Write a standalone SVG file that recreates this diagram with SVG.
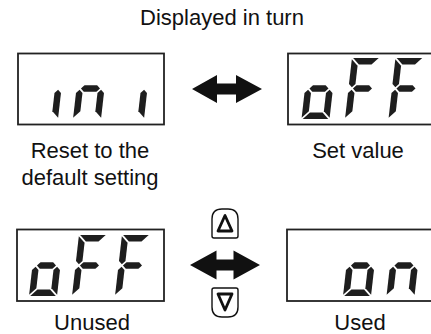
<svg xmlns="http://www.w3.org/2000/svg" xmlns:xlink="http://www.w3.org/1999/xlink" width="431" height="334" viewBox="0 0 431 334">
<style>
.box{fill:#fff;stroke:#222;stroke-width:1.8}
.seg{fill:#1e1e1e}
.lbl{font-family:"Liberation Sans",Arial,sans-serif;font-size:22px;fill:#111;text-anchor:middle}
.arrow{fill:#111}
.key{fill:#fff;stroke:#111;stroke-width:1.4}
.tri{fill:none;stroke:#111;stroke-width:2.8;stroke-linejoin:round}
</style>
<defs>
<polygon id="sa" class="seg" points="1.2,0 26.8,0 20.3,6.5 7.7,6.5"/>
<polygon id="sf" class="seg" points="0,1.2 6.5,7.7 6.5,26.05 3.25,29.3 0,26.05"/>
<polygon id="sb" class="seg" points="28,1.2 28,26.05 24.75,29.3 21.5,26.05 21.5,7.7"/>
<polygon id="sg" class="seg" points="4.45,30.5 7.7,27.25 20.3,27.25 23.55,30.5 20.3,33.75 7.7,33.75"/>
<polygon id="se" class="seg" points="3.25,31.7 6.5,34.95 6.5,53.3 0,59.8 0,34.95"/>
<polygon id="sc" class="seg" points="24.75,31.7 28,34.95 28,59.8 21.5,53.3 21.5,34.95"/>
<polygon id="sd" class="seg" points="7.7,54.5 20.3,54.5 26.8,61 1.2,61"/>
<g id="dig-o"><use xlink:href="#sg"/><use xlink:href="#se"/><use xlink:href="#sc"/><use xlink:href="#sd"/></g>
<g id="dig-F"><use xlink:href="#sa"/><use xlink:href="#sf"/><use xlink:href="#sg"/><use xlink:href="#se"/></g>
<g id="dig-n"><use xlink:href="#sg"/><use xlink:href="#se"/><use xlink:href="#sc"/></g>
<g id="dig-i"><use xlink:href="#sc"/></g>
</defs>
<rect width="431" height="334" fill="#fff"/>

<text class="lbl" x="222" y="25">Displayed in turn</text>

<g id="display-ini">
<rect class="box" x="18" y="53.5" width="146" height="71"/>
<use xlink:href="#dig-i" transform="translate(30,119) skewX(-6.5) translate(0,-61)"/>
<use xlink:href="#dig-n" transform="translate(73,119) skewX(-6.5) translate(0,-61)"/>
<use xlink:href="#dig-i" transform="translate(116,119) skewX(-6.5) translate(0,-61)"/>
<text class="lbl" x="90" y="158">Reset to the</text>
<text class="lbl" x="90" y="185">default setting</text>
</g>

<g id="display-setvalue">
<rect class="box" x="288" y="53.5" width="150" height="71"/>
<use xlink:href="#dig-o" transform="translate(301.5,119) skewX(-6.5) translate(0,-61)"/>
<use xlink:href="#dig-F" transform="translate(345,119) skewX(-6.5) translate(0,-61)"/>
<use xlink:href="#dig-F" transform="translate(388.5,119) skewX(-6.5) translate(0,-61)"/>
<text class="lbl" x="358" y="158">Set value</text>
</g>

<g id="display-unused">
<rect class="box" x="17" y="229.5" width="147" height="71.5"/>
<use xlink:href="#dig-o" transform="translate(29,296) skewX(-6.5) translate(0,-61)"/>
<use xlink:href="#dig-F" transform="translate(72,296) skewX(-6.5) translate(0,-61)"/>
<use xlink:href="#dig-F" transform="translate(115,296) skewX(-6.5) translate(0,-61)"/>
<text class="lbl" x="92" y="330">Unused</text>
</g>

<g id="display-used">
<rect class="box" x="287" y="229.5" width="150" height="71.5"/>
<use xlink:href="#dig-o" transform="translate(343,296) skewX(-6.5) translate(0,-61)"/>
<use xlink:href="#dig-n" transform="translate(386.5,296) skewX(-6.5) translate(0,-61)"/>
<text class="lbl" x="360" y="330">Used</text>
</g>

<g id="key-up">
<path class="key" d="M212,236 L212,219 Q212,209 222,209 L228,209 Q238,209 238,219 L238,236 Q238,238 236,238 L214,238 Q212,238 212,236 Z"/>
<polygon class="tri" points="225,215.5 218,231 232,231"/>
</g>
<g id="key-down">
<path class="key" d="M212,290 Q212,288 214,288 L236,288 Q238,288 238,290 L238,307 Q238,317 228,317 L222,317 Q212,317 212,307 Z"/>
<polygon class="tri" points="218,294 232,294 225,310"/>
</g>

<g id="connectors">
<polygon class="arrow" points="192,89 217,75 217,83.5 236,83.5 236,75 262,89 236,103 236,94.5 217,94.5 217,103"/>
<polygon class="arrow" points="190,265 216.5,250.5 216.5,259.5 233.5,259.5 233.5,250.5 260,265 233.5,279.5 233.5,270.5 216.5,270.5 216.5,279.5"/>
</g>
</svg>
